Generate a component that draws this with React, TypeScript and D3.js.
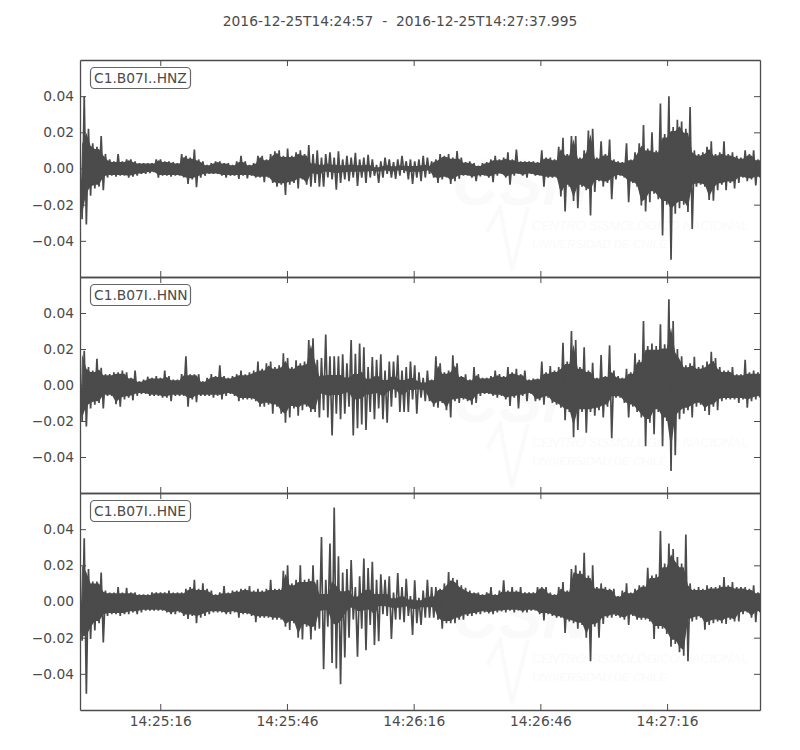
import React, { useEffect, useRef } from 'react';
import * as d3 from 'd3';

// amplitudes are in thousandths, one upper/lower pair per second of trace
const hnzUpper = [
  15,40,22,14,12,18,8,5,4,8,
  4,5,5,4,3,3,3,3,5,5,
  4,4,3.5,3,8,7,6,10.5,5,4,
  2,3,4,4,3,3,2,4,7,4,
  2,3,7,7,5,8,9.5,10,7,11,
  7,9,10,8,13,8,10,6,8,9,
  6,9.5,5,7,6,8.7,5,6,7.6,5,
  2,4,6,5,3.5,5,7,4,5,4,
  5,7,6,4,5,8,7,8,6,9.6,
  6,3.5,4,3,1.5,3,3.5,5,7,5,
  6,9,5,10.5,4,4,4,4,3.5,10,
  6,6,5,12,17,8,18,18,6,10,
  21,22,6,15,8,16,5,4,3.5,14,
  5,9,14,24,11,20,10,36,19,40,
  23,27,26,22,34,10,8,9,12,15,
  8,9,15,8,9,7,6,10,8,10,5,
];
const hnzLower = [
  -28,-31,-15,-11,-10,-12,-5,-4,-4.5,-4,
  -4,-5,-4.5,-4,-3,-3,-2.5,-2,-5,-4,
  -4,-4.5,-4,-4,-5,-8.5,-6,-10.4,-5,-4,
  -3,-3,-3,-4,-5,-4,-4,-5.7,-4,-5.5,
  -4,-5,-5,-7.6,-5,-8,-10,-9,-14.6,-9,
  -8,-11,-6,-9,-10,-8,-10,-10,-5,-6,
  -11.7,-8,-6,-7,-5,-9.6,-5,-8,-5,-4,
  -8,-5,-3,-5,-5.7,-4,-2.5,-6,-8.5,-5,
  -7,-5,-3,-5,-8,-6,-5,-8.5,-7,-5.7,
  -4,-4,-5,-7,-4.4,-4,-5,-7.6,-4,-3,
  -5,-9,-4,-3,-4,-5,-3,-4,-4,-10,
  -5,-5,-5,-15.5,-23.7,-10,-18,-22,-10,-12,
  -26,-13,-7,-10,-8,-17,-6,-4,-5,-18.7,
  -8,-10,-20.5,-23.7,-18.7,-14,-17,-37,-20,-50.5,
  -25,-22,-20,-24,-33.5,-10,-9,-10,-17.4,-17.8,
  -12,-9,-12,-8,-11,-8,-5,-7,-6,-9.4,-5,
];
const hnnUpper = [
  19,19,10,8,14.6,9.6,6,6,7,7,
  8,7,4,8,2,3,4.6,4,5,4,
  8,5,3,3,6,16,6,6,6,2,
  4,6,5,11,5,4,5,6,8,6,
  7,8,13,9,12,13,10,11,17.6,15,
  10,13.7,12,13,25,26,14,15,28,16,
  16,16,17,12,25,17.4,23,21,10,15.5,
  14,17,8,13,13,16.5,8,10,13,11,
  7,4,8,3,16,12,7,8,16.5,12,
  5,6,3,10,6,4,4,5,8,6,
  5,10,7,9,6,8,3,3.5,3.5,13,
  7,10.5,8,10,23.5,13,30,25,10,21,
  8,12.4,4,16.7,5,22,8,5,4,9,
  7,17.6,14,35.5,21.7,23,21.7,33.7,22.6,47.6,
  35.5,20,16,11,12,15.7,10,11,13,18.5,
  15,10,8,8,10,6,6,14,7,8,7,
];
const hnnLower = [
  -20,-23,-13,-11,-10,-13,-6,-6,-10.7,-12,
  -8,-7,-8.5,-6,-5,-5,-6,-6,-6,-7,
  -7,-9,-6,-6,-6,-12,-8,-9.5,-6,-6,
  -6,-7,-6,-8,-6,-5,-6,-9,-8,-8,
  -8,-9,-12,-12,-11,-16,-12,-16,-21,-18,
  -13,-17,-14,-12,-15,-15,-18,-14,-18,-28,
  -16,-19,-16,-12,-28,-24,-22,-25,-15,-19,
  -13,-19,-21,-12,-7,-15,-15,-15,-8,-16,
  -7,-9,-9,-12,-12.6,-10,-14,-18,-9,-10,
  -8,-9,-11,-10,-6,-5,-5,-6,-7,-6,
  -8,-11.7,-7,-13,-6,-9,-5,-9,-8.5,-11,
  -7,-10,-11,-12.6,-19.6,-15,-29,-25,-15,-26.5,
  -15,-17,-14,-18,-12,-29.6,-7,-7,-10,-18,
  -12,-15,-18,-34,-21,-27.4,-15,-34,-20,-47.8,
  -39,-19,-16,-14,-18,-12,-11,-14.4,-16.7,-12,
  -14,-9,-8,-8,-8,-10,-8,-12.6,-9,-8,-7,
];
const hneUpper = [
  22,35,18,11,11,16,6,5,5,8,
  5,7.6,5,5,4,4,4,5,5,5,
  5,6,5,5,5,7,8,12,7,10,
  7,6,4,5,8.5,5,6,6,7,7,
  8.5,6,7,6,7,12,7,7,17,20,
  10,12,20,12,12.6,20,12,35.7,12,32,
  52,25,16,18,23,8,14,23.7,18.5,22,
  12,15,12,14,5,15.7,8,12.6,3,11.7,
  2,6,12,8,8,7,10,16.3,13,12,
  9,7.6,6,5,5,4,5,8,4,6,
  11.7,6,8,6,8,5,5,5,8,8,
  8,5,4,8,10.7,6,18,20,17,27,
  14.4,20,8,10,8,7,7,3,6,10,
  5,7,9,9,18.7,14.4,15,39,21,32,
  29,24.6,21,37,10,7,8,7,9,8,
  8,9,13.5,9,10.7,8,8,8,7,9,5,
];
const hneLower = [
  -21.7,-51,-20.7,-16,-12,-22.6,-8,-7,-7,-8,
  -7,-7,-6,-7,-6,-5,-5,-5,-5,-5,
  -6,-7,-7,-6,-8,-9.6,-8,-12,-9,-8,
  -7,-6,-6,-6,-7,-7,-6,-9,-7,-7,
  -8,-11.5,-9,-9,-9,-10,-10,-10,-14,-15.7,
  -12,-20,-21,-14,-21,-16,-15,-37.4,-14,-34,
  -37,-45.7,-31,-20,-10,-30.5,-15,-27,-13,-24,
  -22,-7,-8,-20.7,-10,-10,-11.5,-8,-18.5,-12,
  -13,-9,-9,-9,-10,-15,-12,-12,-12,-10,
  -10,-8,-8,-7,-7,-6,-6.6,-7,-6,-5.5,
  -6,-5,-6,-5,-6,-6,-5,-5,-7,-10.5,
  -7,-8,-9,-9,-17.4,-11,-12,-15,-13,-20,
  -33,-14,-20,-12.4,-9,-9,-8,-9,-10,-13,
  -8,-10,-10,-10,-11,-20.7,-15,-15,-18,-25,
  -23.5,-28,-30,-33,-11,-10,-9,-15.6,-13,-12,
  -11,-12,-12.4,-10,-11,-11,-7,-6,-9,-11.5,-6,
];

const channels = ['C1.B07I..HNZ', 'C1.B07I..HNN', 'C1.B07I..HNE'];
const uppers = [hnzUpper, hnnUpper, hneUpper];
const lowers = [hnzLower, hnnLower, hneLower];
// seconds where the trace is slow enough that single swings show with gaps between them
const slowWindows = [[54, 82], [56, 81], [56, 83]];
const yTickValues = [-40, -20, 0, 20, 40];
const xTickLabels = ['14:25:16', '14:25:46', '14:26:16', '14:26:46', '14:27:16'];
const startTime = '2016-12-25T14:24:57.000Z';
const endTime = '2016-12-25T14:27:37.995Z';
const title = '2016-12-25T14:24:57  -  2016-12-25T14:27:37.995';

const ink = '#4b4b4b';
const font = '"DejaVu Sans", sans-serif';
const fontSize = 13.8;
const left = 80;
const right = 760;
const panelTops = [60, 277, 493];
const panelBottoms = [277, 493, 710];

const start = new Date(startTime);
const end = new Date(endTime);
const x = d3.scaleUtc().domain([start, end]).range([left, right]);
const xTicks = xTickLabels.map(s => new Date(`2016-12-25T${s}.000Z`));
const step = (end.getTime() - start.getTime()) / 160.5;
const timeAt = (i: number) => new Date(start.getTime() + i * step);

function Panel({ index }: { index: number }) {
  const ref = useRef<SVGGElement>(null);
  const top = panelTops[index];
  const bottom = panelBottoms[index];
  const y = d3.scaleLinear().domain([-60, 60]).range([bottom, top]);
  const upper = uppers[index];
  const lower = lowers[index];
  const [slowFrom, slowTo] = slowWindows[index];

  // every second gets an up-stroke and a down-stroke, like the raw trace
  const zigzag: [number, number][] = [];
  upper.forEach((u, i) => {
    zigzag.push([x(timeAt(i)), y(u)]);
    zigzag.push([x(timeAt(i + 0.5)), y(lower[i])]);
  });

  // solid body of the trace: what two neighbouring strokes both reach
  const bodyScale = (i: number) => (i >= slowFrom && i <= slowTo ? 0.35 : 0.9);
  const body = d3
    .area<number>()
    .x(i => x(timeAt(i + 0.5)))
    .y1(i => y(bodyScale(i) * d3.min(upper.slice(i, i + 2))!))
    .y0(i => y(bodyScale(i) * d3.max(lower.slice(i, i + 2))!));

  useEffect(() => {
    const g = d3.select(ref.current);
    g.selectAll('*').remove();
    const yFmt = (v: number) => d3.format('.2f')(v / 1000);
    const fmt = d3.utcFormat('%H:%M:%S');

    const axes = [
      { a: d3.axisLeft(y).tickValues(yTickValues).tickFormat(yFmt as any), t: `translate(${left},0)` },
      { a: d3.axisRight(y).tickValues(yTickValues).tickFormat(() => ''), t: `translate(${right},0)` },
      { a: d3.axisTop(x).tickValues(xTicks).tickFormat(() => ''), t: `translate(0,${top})` },
      {
        a: d3.axisBottom(x).tickValues(xTicks).tickFormat(index === 2 ? (fmt as any) : () => ''),
        t: `translate(0,${bottom})`,
      },
    ];
    axes.forEach(({ a, t }) => {
      const ag = g.append('g').attr('transform', t).call(a.tickSize(-6).tickSizeOuter(0).tickPadding(6) as any);
      ag.selectAll('path,line').attr('stroke', ink).attr('stroke-width', 1);
      ag.selectAll('path').attr('stroke-width', 1.3);
      ag.selectAll('text').attr('fill', ink).attr('font-size', fontSize).attr('font-family', font);
    });
  }, [index]);

  return (
    <g>
      <clipPath id={`clip-${index}`}>
        <rect x={left} y={top} width={right - left} height={bottom - top} />
      </clipPath>
      <g fill="#fafafa" fontFamily="Liberation Sans" fontStyle="italic" transform={`translate(0,${top - 60})`}>
        <text x={452} y={205} fontSize={65} fontWeight="bold">CSN</text>
        <text x={532} y={230} fontSize={12.7}>CENTRO SISMOLÓGICO NACIONAL</text>
        <text x={532} y={248} fontSize={11.5}>UNIVERSIDAD DE CHILE</text>
        <path d="M487,232 L500,208 L512,270 L528,207" fill="none" stroke="#fafafa" strokeWidth={4} />
      </g>
      <g clipPath={`url(#clip-${index})`}>
        <path d={body(d3.range(upper.length)) ?? ''} fill={ink} />
        <path d={d3.line()(zigzag) ?? ''} fill="none" stroke={ink} strokeWidth={1.7} />
      </g>
      <g ref={ref} />
      <rect x={90.5} y={top + 7.5} width={100} height={21} rx={4} fill="#fff" stroke="#666" strokeWidth={1.2} />
      <text x={94} y={top + 22.5} fill={ink} fontSize={fontSize} fontFamily={font}>
        {channels[index]}
      </text>
    </g>
  );
}

export default function App() {
  return (
    <svg width={800} height={750} style={{ position: 'absolute', left: 0, top: 0 }}>
      <rect width={800} height={750} fill="#fff" />
      <text x={400} y={26} textAnchor="middle" fill={ink} fontSize={fontSize} fontFamily={font} style={{ whiteSpace: 'pre' }}>
        {title}
      </text>
      {channels.map((c, i) => (
        <Panel key={c} index={i} />
      ))}
    </svg>
  );
}
